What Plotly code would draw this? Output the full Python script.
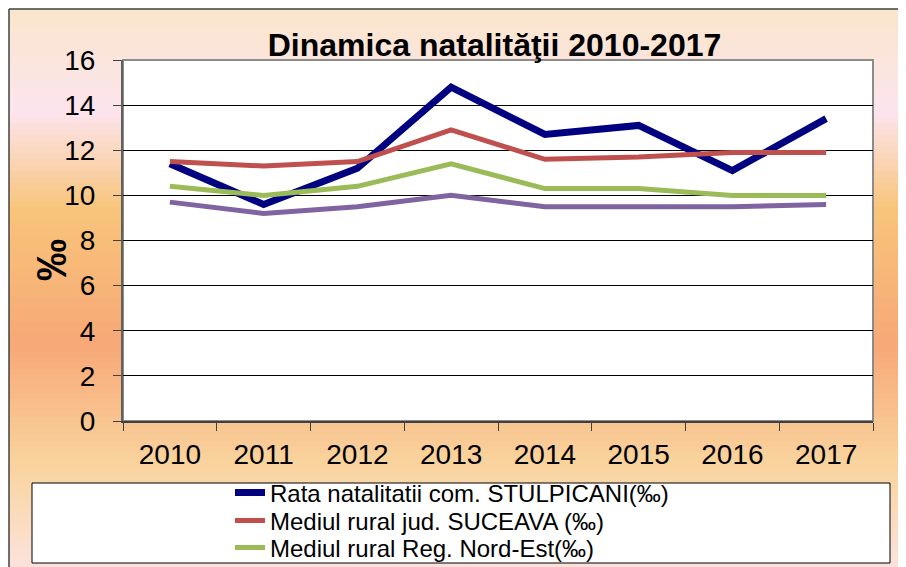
import plotly.graph_objects as go

years = ["2010", "2011", "2012", "2013", "2014", "2015", "2016", "2017"]
stulpicani = [11.4, 9.6, 11.2, 14.8, 12.7, 13.1, 11.1, 13.4]
suceava = [11.5, 11.3, 11.5, 12.9, 11.6, 11.7, 11.9, 11.9]
nord_est = [10.4, 10.0, 10.4, 11.4, 10.3, 10.3, 10.0, 10.0]
mediul_4 = [9.7, 9.2, 9.5, 10.0, 9.5, 9.5, 9.5, 9.6]

names = [
    "Rata natalitatii com. STULPICANI(‰)",
    "Mediul rural jud. SUCEAVA (‰)",
    "Mediul rural Reg. Nord-Est(‰)",
    "Mediul rural (‰)",
]

W, H = 906, 567
L, R, T, B = 115, 865, 52, 413  # plot area pixels (figure coords)


def px_x(px):
    return (px - L) / (R - L)


def px_y(py):
    return (B - py) / (B - T)


fig = go.Figure()
fig.add_trace(go.Scatter(x=years, y=stulpicani, mode="lines", name=names[0],
                         line=dict(color="#000080", width=7), legend="legend"))
fig.add_trace(go.Scatter(x=years, y=suceava, mode="lines", name=names[1],
                         line=dict(color="#C0504D", width=5), legend="legend2"))
fig.add_trace(go.Scatter(x=years, y=nord_est, mode="lines", name=names[2],
                         line=dict(color="#9BBB59", width=5), legend="legend3"))
fig.add_trace(go.Scatter(x=years, y=mediul_4, mode="lines", name=names[3],
                         line=dict(color="#8064A2", width=5), showlegend=False))

# background gradient (styling)
stops = [(1, "#FAE6CB"), (104, "#FCE4EE"), (202, "#F8C47A"), (337, "#F7A877"),
         (457, "#F9D49E"), (560, "#FCE2DC")]


def hex2rgb(h):
    return tuple(int(h[i:i + 2], 16) for i in (1, 3, 5))


def color_at(y):
    for (y0, c0), (y1, c1) in zip(stops[:-1], stops[1:]):
        if y0 <= y <= y1:
            t = (y - y0) / (y1 - y0)
            a, b = hex2rgb(c0), hex2rgb(c1)
            return "rgb(%d,%d,%d)" % tuple(round(a[i] + (b[i] - a[i]) * t) for i in range(3))
    return stops[-1][1]


shapes = []
step = 6
y = 1
while y < H:
    y2 = min(y + step, H)
    shapes.append(dict(type="rect", xref="paper", yref="paper", layer="below",
                       x0=px_x(1), x1=px_x(W + 2), y0=px_y(y), y1=px_y(y2 + 0.6),
                       fillcolor=color_at((y + y2) / 2), line=dict(width=0)))
    y = y2
# outer frame lines
shapes.append(dict(type="line", xref="paper", yref="paper", layer="below",
                   x0=px_x(1), x1=px_x(1), y0=px_y(1), y1=px_y(H + 2),
                   line=dict(color="#404040", width=1.5)))
shapes.append(dict(type="line", xref="paper", yref="paper", layer="below",
                   x0=px_x(1), x1=px_x(W + 2), y0=px_y(1), y1=px_y(1),
                   line=dict(color="#404040", width=1.5)))
# plot area
shapes.append(dict(type="rect", xref="paper", yref="paper", layer="below",
                   x0=0, x1=1, y0=0, y1=1, fillcolor="white",
                   line=dict(color="#8C8C8C", width=2)))
# legend box
shapes.append(dict(type="rect", xref="paper", yref="paper", layer="below",
                   x0=px_x(24), x1=px_x(882), y0=px_y(475), y1=px_y(555),
                   fillcolor="white", line=dict(color="black", width=1)))

leg_common = dict(x=px_x(222), xanchor="left", yanchor="middle",
                  bgcolor="rgba(0,0,0,0)", borderwidth=0, tracegroupgap=0,
                  font=dict(size=24, color="black"), itemwidth=30)

fig.update_layout(
    width=W, height=H,
    margin=dict(l=L, r=W - R, t=T, b=H - B, autoexpand=False),
    paper_bgcolor="white",
    plot_bgcolor="rgba(0,0,0,0)",
    font=dict(family="Liberation Sans, Arial, sans-serif", color="black"),
    title=dict(text="<b>Dinamica natalităţii 2010-2017</b>",
               x=px_x(486.5), xref="paper", xanchor="center",
               y=1 - 37 / H, yanchor="middle", yref="container",
               font=dict(size=32, color="black")),
    shapes=shapes,
    showlegend=True,
    legend=dict(y=px_y(485), **leg_common),
    legend2=dict(y=px_y(513), **leg_common),
    legend3=dict(y=px_y(540), **leg_common),
    annotations=[dict(text="<b>‰</b>", textangle=-90, xref="paper", yref="paper",
                      x=px_x(43), y=px_y(252), xanchor="center", yanchor="middle",
                      showarrow=False, font=dict(size=42, color="black"))],
)
fig.update_xaxes(type="category", range=[-0.5, 7.5], tickson="boundaries",
                 ticks="outside", ticklen=8,
                 tickcolor="#404040", showline=True, linecolor="#404040", linewidth=2,
                 showgrid=False, tickfont=dict(size=28), ticklabelstandoff=7)
fig.update_yaxes(range=[0, 16], dtick=2, ticks="outside", ticklen=8, tickcolor="#404040",
                 showline=True, linecolor="#606060", linewidth=2, showgrid=True,
                 gridcolor="black", gridwidth=1, zeroline=False,
                 tickfont=dict(size=28), ticklabelstandoff=12)

fig.write_html("out.html")
